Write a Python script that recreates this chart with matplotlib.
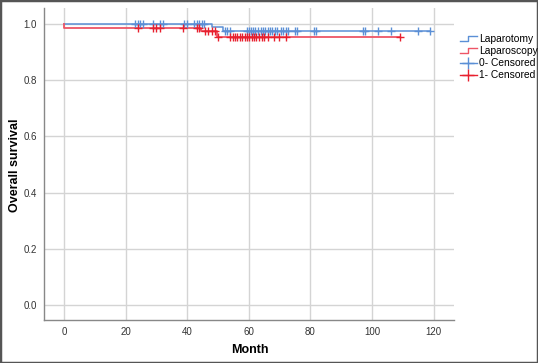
import matplotlib as mpl
mpl.use("Agg")
import matplotlib.pyplot as plt
from matplotlib.lines import Line2D
from matplotlib.legend_handler import HandlerBase
from matplotlib.patches import Rectangle

plt.rcParams["font.family"] = ["Liberation Sans", "DejaVu Sans"]

# Kaplan-Meier steps (time, survival after the step)
open_times = [0, 48, 51.7]
open_surv = [1.0, 0.988, 0.976]
open_end = 118.8
open_cens = [23.1, 24.0, 24.7, 25.6, 29.0, 31.2, 32.0, 39.1, 39.8, 42.3, 43.1, 43.9, 44.7, 45.6,
             52.3, 53.0, 53.9, 59.3, 60.0, 60.7, 61.3, 62.0, 63.1, 63.9, 64.6, 65.3, 66.1, 67.0,
             67.6, 68.4, 69.3, 70.3, 71.2, 71.9, 72.7, 75.0, 75.7, 81.0, 81.7, 97.0, 97.7,
             102.0, 106.0, 115.0, 118.8]

lap_times = [0, 44.6, 49.6]
lap_surv = [0.986, 0.975, 0.953]
lap_end = 109.1
lap_cens = [23.9, 29.0, 29.9, 31.0, 38.7, 43.1, 43.9, 45.8, 46.9, 48.0, 49.0, 50.1,
            53.9, 54.7, 55.4, 56.2, 57.1, 57.8, 58.6, 59.3, 60.2, 61.0, 61.7, 62.4,
            63.3, 64.2, 65.0, 66.1, 68.2, 69.9, 72.1, 109.1]

blue = "#5b8fd6"
red_line = "#ee5566"
red_mark = "#e8202e"


def km_curve(times, surv, end, start=1.0):
    xs, ys = [times[0]], [start]
    for t, s in zip(times, surv):
        xs += [t, t]
        ys += [ys[-1], s]
    xs.append(end)
    ys.append(ys[-1])
    return xs, ys


def surv_at(times, surv, t):
    s = surv[0]
    for tt, ss in zip(times, surv):
        if t >= tt:
            s = ss
    return s


class StepHandler(HandlerBase):
    def create_artists(self, legend, orig, xd, yd, w, h, fontsize, trans):
        xs = [xd, xd + w * 0.45, xd + w * 0.45, xd + w]
        ys = [yd + h * 0.15, yd + h * 0.15, yd + h * 0.8, yd + h * 0.8]
        ln = Line2D(xs, ys, color=orig.get_color(), lw=1.0, transform=trans)
        return [ln]


fig = plt.figure(figsize=(5.38, 3.63), dpi=100)
ax = fig.add_axes([44 / 538, 1 - 320 / 363, 410 / 538, 312 / 363])

xs, ys = km_curve(open_times, open_surv, open_end)
ax.plot(xs, ys, color=blue, lw=1.1, zorder=3)
ax.plot(open_cens, [surv_at(open_times, open_surv, t) for t in open_cens], ls="none",
        marker="+", ms=6, mew=1.0, color=blue, zorder=4)

xs, ys = km_curve(lap_times, lap_surv, lap_end)
ax.plot(xs, ys, color=red_line, lw=1.3, zorder=3)
ax.plot(lap_cens, [surv_at(lap_times, lap_surv, t) for t in lap_cens], ls="none",
        marker="+", ms=6, mew=1.0, color=red_mark, zorder=4)

ax.set_xlim(-6.5, 126.6)
ax.set_ylim(-0.053, 1.057)
ax.set_xticks([0, 20, 40, 60, 80, 100, 120])
ax.set_yticks([0.0, 0.2, 0.4, 0.6, 0.8, 1.0])
ax.set_yticklabels(["0.0", "0.2", "0.4", "0.6", "0.8", "1.0"])
ax.tick_params(length=0, labelsize=7, pad=5, colors="#333333")
ax.grid(True, color="#d4d4d4", lw=1.0)
ax.set_axisbelow(True)
for s in ["top", "right"]:
    ax.spines[s].set_visible(False)
for s in ["left", "bottom"]:
    ax.spines[s].set_color("#888888")
    ax.spines[s].set_linewidth(1.0)

ax.set_xlabel("Month", fontsize=9, fontweight="bold")
ax.set_ylabel("Overall survival", fontsize=9, fontweight="bold")
ax.xaxis.set_label_coords((250 - 44) / 410, -(350 - 320) / 312)
ax.yaxis.set_label_coords(-(44 - 15) / 410, (320 - 165) / 312)
ax.xaxis.label.set_va("center")
ax.yaxis.label.set_va("center")

h1 = Line2D([], [], color=blue)
h2 = Line2D([], [], color=red_line)
h3 = Line2D([], [], color=blue, marker="+", ms=9, lw=1.0)
h4 = Line2D([], [], color=red_mark, marker="+", ms=9, lw=1.0)
fig.legend([h1, h2, h3, h4], ["Laparotomy", "Laparoscopy", "0- Censored", "1- Censored"],
           loc="upper left", bbox_to_anchor=(455 / 538, 1 - 29 / 363), frameon=False,
           fontsize=7.4, handlelength=1.6, handletextpad=0.2, labelspacing=0.2,
           borderpad=0, handler_map={h1: StepHandler(), h2: StepHandler()})

fig.patches.append(Rectangle((0, 0), 1, 1, transform=fig.transFigure, fill=False,
                             edgecolor="#555555", lw=2.5))

fig.savefig("out.png", dpi=100)
